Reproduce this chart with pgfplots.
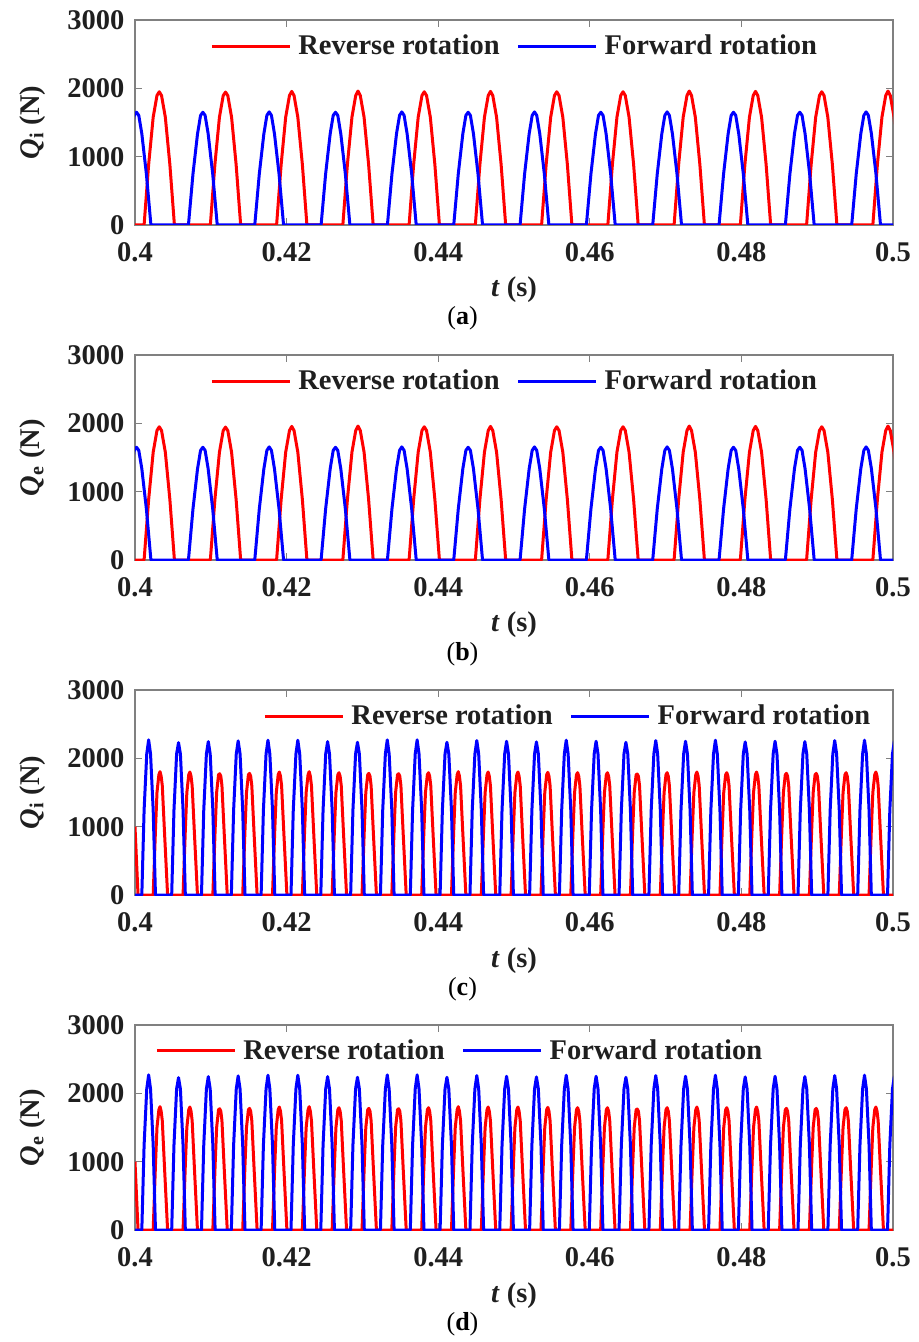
\documentclass[border=0pt]{standalone}
\usepackage{fontspec}
\setmainfont{Liberation Serif}
\usepackage{pgfplots}
\pgfplotsset{compat=1.18}
\usepackage{pgfplotstable}

\definecolor{axgray}{gray}{0.5}
\definecolor{lblk}{gray}{0.12}
\definecolor{mred}{rgb}{1,0,0}
\definecolor{mblue}{rgb}{0,0,1}

% panels (a),(b): slow pulses
\pgfplotstableread{
t Q
0.4000 0
0.4012 0
0.4018 885
0.4024 1578
0.4029 1895
0.4032 1950
0.4035 1895
0.4040 1578
0.4046 885
0.4052 0
0.40994 0
0.41054 885
0.41114 1578
0.41164 1895
0.41194 1945
0.41224 1895
0.41274 1578
0.41334 885
0.41394 0
0.41868 0
0.41928 885
0.41988 1578
0.42038 1895
0.42068 1955
0.42098 1895
0.42148 1578
0.42208 885
0.42268 0
0.42742 0
0.42802 885
0.42862 1578
0.42912 1895
0.42942 1960
0.42972 1895
0.43022 1578
0.43082 885
0.43142 0
0.43616 0
0.43676 885
0.43736 1578
0.43786 1895
0.43816 1950
0.43846 1895
0.43896 1578
0.43956 885
0.44016 0
0.4449 0
0.4455 885
0.4461 1578
0.4466 1895
0.4469 1955
0.4472 1895
0.4477 1578
0.4483 885
0.4489 0
0.45364 0
0.45424 885
0.45484 1578
0.45534 1895
0.45564 1950
0.45594 1895
0.45644 1578
0.45704 885
0.45764 0
0.46238 0
0.46298 885
0.46358 1578
0.46408 1895
0.46438 1950
0.46468 1895
0.46518 1578
0.46578 885
0.46638 0
0.47112 0
0.47172 885
0.47232 1578
0.47282 1895
0.47312 1960
0.47342 1895
0.47392 1578
0.47452 885
0.47512 0
0.47986 0
0.48046 885
0.48106 1578
0.48156 1895
0.48186 1955
0.48216 1895
0.48266 1578
0.48326 885
0.48386 0
0.4886 0
0.4892 885
0.4898 1578
0.4903 1895
0.4906 1950
0.4909 1895
0.4914 1578
0.4920 885
0.4926 0
0.49734 0
0.49794 885
0.49854 1578
0.49904 1895
0.49934 1960
0.49964 1895
0.50014 1578
0.50074 885
0.50134 0
}\redA

\pgfplotstableread{
t Q
0.3983 0
0.3989 749
0.3995 1335
0.3999 1604
0.4002 1650
0.4005 1604
0.4009 1335
0.4015 749
0.4021 0
0.40705 0
0.40765 749
0.40825 1335
0.40865 1604
0.40895 1650
0.40925 1604
0.40965 1335
0.41025 749
0.41085 0
0.4158 0
0.4164 749
0.4170 1335
0.4174 1604
0.4177 1655
0.4180 1604
0.4184 1335
0.4190 749
0.4196 0
0.42455 0
0.42515 749
0.42575 1335
0.42615 1604
0.42645 1650
0.42675 1604
0.42715 1335
0.42775 749
0.42835 0
0.4333 0
0.4339 749
0.4345 1335
0.4349 1604
0.4352 1655
0.4355 1604
0.4359 1335
0.4365 749
0.4371 0
0.44205 0
0.44265 749
0.44325 1335
0.44365 1604
0.44395 1650
0.44425 1604
0.44465 1335
0.44525 749
0.44585 0
0.4508 0
0.4514 749
0.4520 1335
0.4524 1604
0.4527 1655
0.4530 1604
0.4534 1335
0.4540 749
0.4546 0
0.45955 0
0.46015 749
0.46075 1335
0.46115 1604
0.46145 1650
0.46175 1604
0.46215 1335
0.46275 749
0.46335 0
0.4683 0
0.4689 749
0.4695 1335
0.4699 1604
0.4702 1655
0.4705 1604
0.4709 1335
0.4715 749
0.4721 0
0.47705 0
0.47765 749
0.47825 1335
0.47865 1604
0.47895 1650
0.47925 1604
0.47965 1335
0.48025 749
0.48085 0
0.4858 0
0.4864 749
0.4870 1335
0.4874 1604
0.4877 1650
0.4880 1604
0.4884 1335
0.4890 749
0.4896 0
0.49455 0
0.49515 749
0.49575 1335
0.49615 1604
0.49645 1655
0.49675 1604
0.49715 1335
0.49775 749
0.49835 0
0.5000 0
}\blueA

% panels (c),(d): fast pulses
\pgfplotstableread{
t Q
0.4000 1000
0.4004 0
0.4024 0
0.4027 950
0.4029 1500
0.40315 1760
0.4033 1805
0.40345 1740
0.4036 1600
0.4039 900
0.4043 0
0.40634 0
0.40664 950
0.40684 1500
0.40709 1760
0.40724 1800
0.40739 1740
0.40754 1600
0.40784 900
0.40824 0
0.41027 0
0.41057 950
0.41077 1500
0.41102 1760
0.41117 1775
0.41132 1740
0.41147 1600
0.41177 900
0.41217 0
0.41421 0
0.41451 950
0.41471 1500
0.41496 1760
0.41511 1780
0.41526 1740
0.41541 1600
0.41571 900
0.41611 0
0.41814 0
0.41844 950
0.41864 1500
0.41889 1760
0.41904 1800
0.41919 1740
0.41934 1600
0.41964 900
0.42004 0
0.42208 0
0.42238 950
0.42258 1500
0.42283 1760
0.42298 1805
0.42313 1740
0.42328 1600
0.42358 900
0.42398 0
0.42601 0
0.42631 950
0.42651 1500
0.42676 1760
0.42691 1790
0.42706 1740
0.42721 1600
0.42751 900
0.42791 0
0.42995 0
0.43025 950
0.43045 1500
0.4307 1760
0.43085 1780
0.431 1740
0.43115 1600
0.43145 900
0.43185 0
0.43388 0
0.43418 950
0.43438 1500
0.43463 1760
0.43478 1775
0.43493 1740
0.43508 1600
0.43538 900
0.43578 0
0.43782 0
0.43812 950
0.43832 1500
0.43857 1760
0.43872 1790
0.43887 1740
0.43902 1600
0.43932 900
0.43972 0
0.44175 0
0.44205 950
0.44225 1500
0.4425 1760
0.44265 1805
0.4428 1740
0.44295 1600
0.44325 900
0.44365 0
0.44569 0
0.44599 950
0.44619 1500
0.44644 1760
0.44659 1800
0.44674 1740
0.44689 1600
0.44719 900
0.44759 0
0.44962 0
0.44992 950
0.45012 1500
0.45037 1760
0.45052 1800
0.45067 1740
0.45082 1600
0.45112 900
0.45152 0
0.45356 0
0.45386 950
0.45406 1500
0.45431 1760
0.45446 1795
0.45461 1740
0.45476 1600
0.45506 900
0.45546 0
0.45749 0
0.45779 950
0.45799 1500
0.45824 1760
0.45839 1790
0.45854 1740
0.45869 1600
0.45899 900
0.45939 0
0.46143 0
0.46173 950
0.46193 1500
0.46218 1760
0.46233 1790
0.46248 1740
0.46263 1600
0.46293 900
0.46333 0
0.46536 0
0.46566 950
0.46586 1500
0.46611 1760
0.46626 1770
0.46641 1740
0.46656 1600
0.46686 900
0.46726 0
0.4693 0
0.4696 950
0.4698 1500
0.47005 1760
0.4702 1790
0.47035 1740
0.4705 1600
0.4708 900
0.4712 0
0.47323 0
0.47353 950
0.47373 1500
0.47398 1760
0.47413 1800
0.47428 1740
0.47443 1600
0.47473 900
0.47513 0
0.47717 0
0.47747 950
0.47767 1500
0.47792 1760
0.47807 1790
0.47822 1740
0.47837 1600
0.47867 900
0.47907 0
0.4811 0
0.4814 950
0.4816 1500
0.48185 1760
0.482 1800
0.48215 1740
0.4823 1600
0.4826 900
0.483 0
0.48504 0
0.48534 950
0.48554 1500
0.48579 1760
0.48594 1780
0.48609 1740
0.48624 1600
0.48654 900
0.48694 0
0.48897 0
0.48927 950
0.48947 1500
0.48972 1760
0.48987 1780
0.49002 1740
0.49017 1600
0.49047 900
0.49087 0
0.49291 0
0.49321 950
0.49341 1500
0.49366 1760
0.49381 1790
0.49396 1740
0.49411 1600
0.49441 900
0.49481 0
0.49684 0
0.49714 950
0.49734 1500
0.49759 1760
0.49774 1800
0.49789 1740
0.49804 1600
0.49834 900
0.49874 0
0.5000 0
}\redC

\pgfplotstableread{
t Q
0.4000 0
0.4009 0
0.4012 1240
0.40155 2065
0.4018 2270
0.40205 2065
0.4024 1240
0.4027 0
0.40484 0
0.40514 1240
0.40549 2065
0.40574 2230
0.40599 2065
0.40634 1240
0.40664 0
0.40877 0
0.40907 1240
0.40942 2065
0.40967 2245
0.40992 2065
0.41027 1240
0.41057 0
0.41271 0
0.41301 1240
0.41336 2065
0.41361 2255
0.41386 2065
0.41421 1240
0.41451 0
0.41664 0
0.41694 1240
0.41729 2065
0.41754 2265
0.41779 2065
0.41814 1240
0.41844 0
0.42058 0
0.42088 1240
0.42123 2065
0.42148 2265
0.42173 2065
0.42208 1240
0.42238 0
0.42451 0
0.42481 1240
0.42516 2065
0.42541 2245
0.42566 2065
0.42601 1240
0.42631 0
0.42845 0
0.42875 1240
0.4291 2065
0.42935 2235
0.4296 2065
0.42995 1240
0.43025 0
0.43238 0
0.43268 1240
0.43303 2065
0.43328 2270
0.43353 2065
0.43388 1240
0.43418 0
0.43632 0
0.43662 1240
0.43697 2065
0.43722 2270
0.43747 2065
0.43782 1240
0.43812 0
0.44025 0
0.44055 1240
0.4409 2065
0.44115 2235
0.4414 2065
0.44175 1240
0.44205 0
0.44419 0
0.44449 1240
0.44484 2065
0.44509 2260
0.44534 2065
0.44569 1240
0.44599 0
0.44812 0
0.44842 1240
0.44877 2065
0.44902 2250
0.44927 2065
0.44962 1240
0.44992 0
0.45206 0
0.45236 1240
0.45271 2065
0.45296 2240
0.45321 2065
0.45356 1240
0.45386 0
0.45599 0
0.45629 1240
0.45664 2065
0.45689 2265
0.45714 2065
0.45749 1240
0.45779 0
0.45993 0
0.46023 1240
0.46058 2065
0.46083 2250
0.46108 2065
0.46143 1240
0.46173 0
0.46386 0
0.46416 1240
0.46451 2065
0.46476 2235
0.46501 2065
0.46536 1240
0.46566 0
0.4678 0
0.4681 1240
0.46845 2065
0.4687 2260
0.46895 2065
0.4693 1240
0.4696 0
0.47173 0
0.47203 1240
0.47238 2065
0.47263 2250
0.47288 2065
0.47323 1240
0.47353 0
0.47567 0
0.47597 1240
0.47632 2065
0.47657 2265
0.47682 2065
0.47717 1240
0.47747 0
0.4796 0
0.4799 1240
0.48025 2065
0.4805 2240
0.48075 2065
0.4811 1240
0.4814 0
0.48354 0
0.48384 1240
0.48419 2065
0.48444 2250
0.48469 2065
0.48504 1240
0.48534 0
0.48747 0
0.48777 1240
0.48812 2065
0.48837 2245
0.48862 2065
0.48897 1240
0.48927 0
0.49141 0
0.49171 1240
0.49206 2065
0.49231 2260
0.49256 2065
0.49291 1240
0.49321 0
0.49534 0
0.49564 1240
0.49599 2065
0.49624 2265
0.49649 2065
0.49684 1240
0.49714 0
0.49928 0
0.49958 1240
0.49993 2065
0.50018 2250
0.50043 2065
0.50078 1240
0.50108 0
}\blueC

\pgfplotsset{
  panel/.style={
    scale only axis, width=379pt, height=102.5pt,
    anchor=north west,
    xmin=0.4, xmax=0.5, ymin=0, ymax=3000,
    xtick={0.4,0.42,0.44,0.46,0.48,0.5},
    xticklabels={0.4,0.42,0.44,0.46,0.48,0.5},
    ytick={0,1000,2000,3000},
    yticklabels={0,1000,2000,3000},
    tick pos=both, tick align=inside, major tick length=3.5pt,
    axis line style={axgray, line width=0.6pt},
    tick style={axgray, line width=0.6pt},
    ticklabel style={font=\fontsize{14.25}{16}\selectfont\bfseries, text=lblk},
    xticklabel style={yshift=-5.25pt},
    yticklabel style={xshift=-1.75pt},
    label style={font=\fontsize{14.25}{16}\selectfont\bfseries, text=lblk},
    xlabel={\textit{t} (s)},
    xlabel style={at={(axis description cs:0.5,-0.3512)}, anchor=base},
    ylabel style={at={(axis description cs:-0.1266,0.5)}, anchor=base},
    legend columns=2,
    legend style={draw=none, fill=none, inner sep=0pt,
      font=\fontsize{14.25}{16}\selectfont\bfseries, text=lblk,
      nodes={inner sep=0pt}, column sep=3.5pt,
      /tikz/every even column/.append style={column sep=8.5pt}},
    legend image code/.code={\draw[#1] (0pt,0pt) -- (39pt,0pt);},
    every axis plot/.append style={line width=1.5pt, mark=none, line join=round},
  }
}

\begin{document}
\begin{tikzpicture}
\useasboundingbox (0pt,0pt) rectangle (459pt,-671pt);

% (a)
\begin{axis}[panel, at={(67.5pt,-10pt)},
  ylabel={\textit{Q}\textsubscript{i} (N)},
  legend style={at={(axis description cs:0.0989,0.873)}, anchor=west}]
\addplot[mred] table[x=t, y=Q] {\redA};
\addlegendentry{Reverse rotation}
\addplot[mblue] table[x=t, y=Q] {\blueA};
\addlegendentry{Forward rotation}
\end{axis}

% (b)
\begin{axis}[panel, at={(67.5pt,-177.5pt)},
  ylabel={\textit{Q}\textsubscript{e} (N)},
  legend style={at={(axis description cs:0.0989,0.873)}, anchor=west}]
\addplot[mred] table[x=t, y=Q] {\redA};
\addlegendentry{Reverse rotation}
\addplot[mblue] table[x=t, y=Q] {\blueA};
\addlegendentry{Forward rotation}
\end{axis}

% (c)
\begin{axis}[panel, at={(67.5pt,-345pt)},
  ylabel={\textit{Q}\textsubscript{i} (N)},
  legend style={at={(axis description cs:0.1689,0.873)}, anchor=west}]
\addplot[mred] table[x=t, y=Q] {\redC};
\addlegendentry{Reverse rotation}
\addplot[mblue] table[x=t, y=Q] {\blueC};
\addlegendentry{Forward rotation}
\end{axis}

% (d)
\begin{axis}[panel, at={(67.5pt,-512.5pt)},
  ylabel={\textit{Q}\textsubscript{e} (N)},
  legend style={at={(axis description cs:0.0264,0.875)}, anchor=west}]
\addplot[mred] table[x=t, y=Q] {\redC};
\addlegendentry{Reverse rotation}
\addplot[mblue] table[x=t, y=Q] {\blueC};
\addlegendentry{Forward rotation}
\end{axis}

\foreach \lab/\yy in {a/-162.5pt, b/-330pt, c/-497.5pt, d/-665pt}
  \node[font=\fontsize{13}{15}\selectfont, anchor=base] at (231.25pt,\yy) {(\textbf{\lab})};
\end{tikzpicture}
\end{document}
